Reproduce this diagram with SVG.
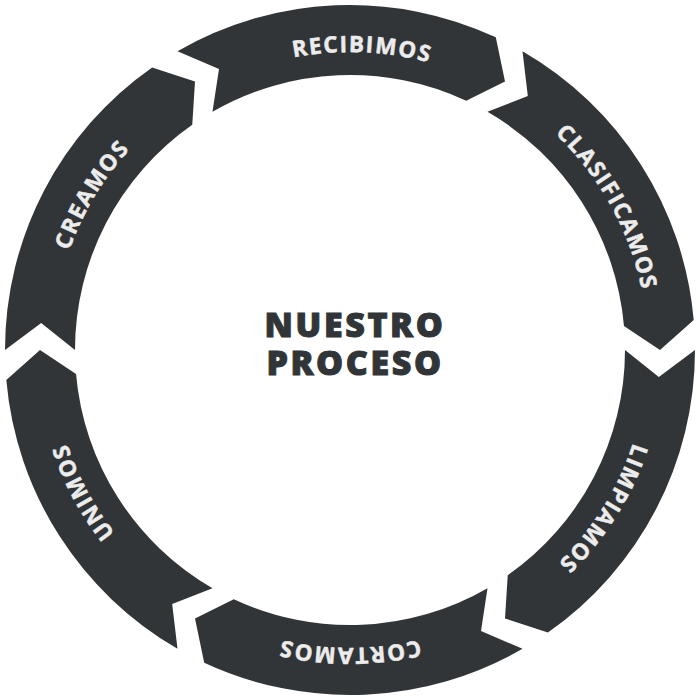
<svg xmlns="http://www.w3.org/2000/svg" xmlns:xlink="http://www.w3.org/1999/xlink" width="700" height="700" viewBox="0 0 700 700">
<style>
.seg{fill:#323537}
.lbl{fill:#ececec;stroke:#ececec;stroke-width:0.5px;font-family:"Open Sans","Liberation Sans",sans-serif;font-weight:700;font-size:22.5px;letter-spacing:1.6px}
.title{fill:#323537;stroke:#323537;stroke-width:1px;font-family:"Open Sans","Liberation Sans",sans-serif;font-weight:800;font-size:34px;letter-spacing:2.6px;text-anchor:middle}
</style>
<defs>
<path id="seg" d="M177.5,51.22 A345,345 0 0 1 495.8,37.32 L505,81.53 L466.22,100.76 A275,275 0 0 0 212.5,111.84 L218.99,69.04 Z"/>
<path id="arc" d="M52,350 A298,298 0 0 1 648,350"/>
</defs>
<rect width="700" height="700" fill="#ffffff"/>
<g id="recibimos">
<use href="#seg" class="seg"/>
<text class="lbl" text-anchor="middle" transform="rotate(2.3 350 350)"><textPath href="#arc" startOffset="50%">RECIBIMOS</textPath></text>
</g>
<g id="clasificamos" transform="rotate(60 350 350)">
<use href="#seg" class="seg"/>
<text class="lbl" text-anchor="middle" transform="rotate(1 350 350)"><textPath href="#arc" startOffset="50%">CLASIFICAMOS</textPath></text>
</g>
<g id="limpiamos" transform="rotate(120 350 350)">
<use href="#seg" class="seg"/>
<text class="lbl" text-anchor="middle" transform="rotate(2 350 350)"><textPath href="#arc" startOffset="50%">LIMPIAMOS</textPath></text>
</g>
<g id="cortamos" transform="rotate(180 350 350)">
<use href="#seg" class="seg"/>
<text class="lbl" text-anchor="middle" transform="rotate(0 350 350)"><textPath href="#arc" startOffset="50%">CORTAMOS</textPath></text>
</g>
<g id="unimos" transform="rotate(240 350 350)">
<use href="#seg" class="seg"/>
<text class="lbl" text-anchor="middle" transform="rotate(2 350 350)"><textPath href="#arc" startOffset="50%">UNIMOS</textPath></text>
</g>
<g id="creamos" transform="rotate(300 350 350)">
<use href="#seg" class="seg"/>
<text class="lbl" text-anchor="middle" transform="rotate(1 350 350)"><textPath href="#arc" startOffset="50%">CREAMOS</textPath></text>
</g>
<g id="center">
<text class="title"><tspan x="355" y="337">NUESTRO</tspan><tspan x="355" y="375">PROCESO</tspan></text>
</g>
<g id="connectors"/>
</svg>
